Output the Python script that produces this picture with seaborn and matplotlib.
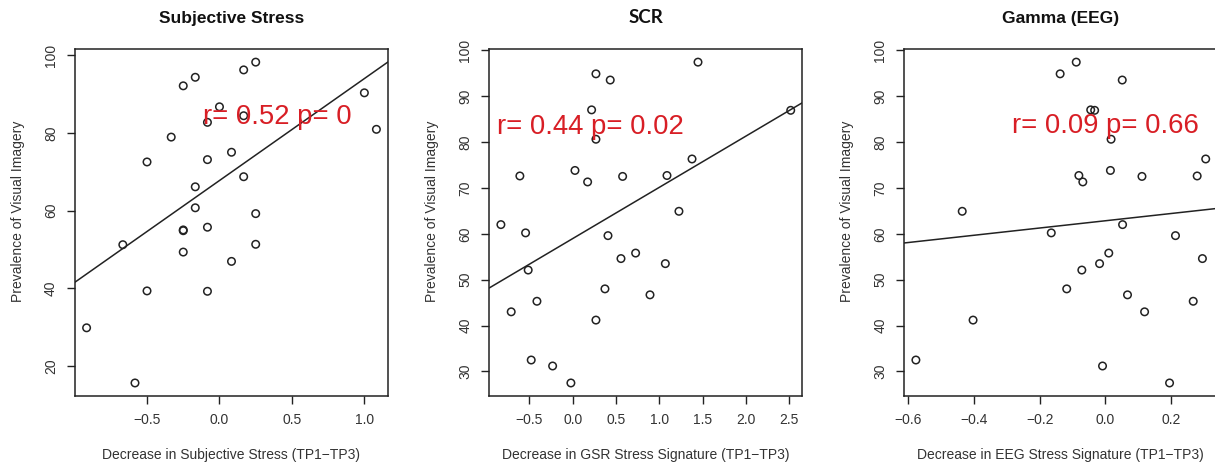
import numpy as np
import pandas as pd
import matplotlib
matplotlib.use("Agg")
import matplotlib.pyplot as plt
import seaborn as sns

# ---- data -------------------------------------------------------------
# Panel 1: change in self-reported stress vs. prevalence of visual imagery
subjective_change = [-0.25, -0.167, 0.167, 0.25, 0.0, 0.167, -0.083, 1.0, 1.083,
                     -0.333, -0.5, -0.083, 0.083, 0.167, -0.167, -0.167, 0.25,
                     -0.25, -0.25, -0.083, -0.667, -0.25, 0.083, 0.25, -0.5,
                     -0.083, -0.917, -0.583]
imagery_subjective = [92.1, 94.3, 96.2, 98.2, 86.7, 84.4, 82.7, 90.3, 80.9,
                      78.9, 72.5, 73.1, 75.0, 68.7, 66.1, 60.7, 59.2,
                      54.8, 55.0, 55.7, 51.2, 49.3, 46.9, 51.3, 39.3,
                      39.2, 29.8, 15.6]

# Panels 2 and 3: physiological stress signatures (same participants)
imagery_physio = [94.85, 93.5, 97.4, 87.0, 86.9, 80.6, 72.6, 73.8, 71.3, 72.5,
                  72.7, 76.3, 64.9, 62.0, 60.2, 59.6, 54.6, 55.8, 53.5, 52.1,
                  48.0, 46.7, 45.3, 43.0, 41.2, 32.5, 31.2, 27.5]
gsr_change = [0.269, 0.434, 1.447, 0.219, 2.517, 0.269, -0.609, 0.027, 0.173, 0.577,
              1.089, 1.378, 1.227, -0.828, -0.543, 0.408, 0.558, 0.727, 1.07, -0.513,
              0.373, 0.893, -0.412, -0.709, 0.269, -0.478, -0.231, -0.02]
eeg_change = [-0.138, 0.051, -0.089, -0.045, -0.033, 0.017, 0.279, 0.015, -0.069, 0.111,
              -0.081, 0.305, -0.436, 0.052, -0.165, 0.213, 0.295, 0.01, -0.018, -0.072,
              -0.118, 0.067, 0.267, 0.119, -0.403, -0.577, -0.009, 0.195]

titles = ["Subjective Stress", "SCR", "Gamma (EEG)"]
title_fonts = ["Liberation Sans", "Lato", "Liberation Sans"]
xlabels = ["Decrease in Subjective Stress (TP1\u2212TP3)",
           "Decrease in GSR Stress Signature (TP1\u2212TP3)",
           "Decrease in EEG Stress Signature (TP1\u2212TP3)"]
ylabel = "Prevalence of Visual Imagery"
stat_labels = ["r= 0.52 p= 0", "r= 0.44 p= 0.02", "r= 0.09 p= 0.66"]
stat_xy = [(0.40, 84.0), (0.20, 83.3), (0.0, 83.5)]
xticks = [[-0.5, 0.0, 0.5, 1.0],
          [-0.5, 0.0, 0.5, 1.0, 1.5, 2.0, 2.5],
          [-0.6, -0.4, -0.2, 0.0, 0.2]]
yticks = [[20, 40, 60, 80, 100],
          [30, 40, 50, 60, 70, 80, 90, 100],
          [30, 40, 50, 60, 70, 80, 90, 100]]

panels = [(subjective_change, imagery_subjective),
          (gsr_change, imagery_physio),
          (eeg_change, imagery_physio)]

# ---- style ------------------------------------------------------------
sns.set_style("ticks")
plt.rcParams["font.family"] = ["Liberation Sans", "DejaVu Sans"]
INK = "#222222"
TXT = "#333333"
RED = "#d81e25"

W, H = 1215, 466
fig = plt.figure(figsize=(W / 100, H / 100), dpi=100)

lefts = [75.0, 489.3, 904.3]
top, ax_w, ax_h = 49.3, 313.0, 346.5


def fmt(v, decimals):
    s = f"{v:.{decimals}f}"
    return s.replace("-", "\u2212")


for i, (xs, ys) in enumerate(panels):
    ax = fig.add_axes([lefts[i] / W, 1 - (top + ax_h) / H, ax_w / W, ax_h / H])
    df = pd.DataFrame({"x": xs, "y": ys})

    # R-style axis limits: data range padded by 4 % on each side
    xlo, xhi = min(xs), max(xs)
    ylo, yhi = min(ys), max(ys)
    xpad, ypad = 0.04 * (xhi - xlo), 0.04 * (yhi - ylo)
    xlim = (xlo - xpad, xhi + xpad)
    ylim = (ylo - ypad, yhi + ypad)
    ax.set_xlim(xlim)
    ax.set_ylim(ylim)

    sns.regplot(data=df, x="x", y="y", ax=ax, ci=None, truncate=False,
                color=INK,
                scatter_kws=dict(facecolors="none", edgecolors=INK, s=29,
                                 linewidths=1.1, alpha=1, zorder=3),
                line_kws=dict(color=INK, lw=1.1, zorder=2))
    ax.set_xlim(xlim)
    ax.set_ylim(ylim)

    for sp in ax.spines.values():
        sp.set_visible(True)
        sp.set_color(INK)
        sp.set_linewidth(1.1)

    ax.set_xticks(xticks[i])
    ax.set_xticklabels([fmt(v, 1) for v in xticks[i]])
    ax.set_yticks(yticks[i])
    ax.set_yticklabels([fmt(v, 0) for v in yticks[i]])
    ax.tick_params(axis="both", length=5.8, width=1.0, color=INK,
                   labelsize=10, labelcolor=TXT)
    ax.tick_params(axis="x", pad=6.8)
    ax.tick_params(axis="y", pad=6.5, labelrotation=90)
    for lab in ax.get_yticklabels():
        lab.set_verticalalignment("center")

    ax.set_xlabel(xlabels[i], fontsize=10, color=TXT)
    ax.set_ylabel(ylabel, fontsize=10, color=TXT)
    ax.xaxis.set_label_coords(0.5, -0.150)
    ax.yaxis.set_label_coords(-0.160, 0.533)

    ax.set_title(titles[i], fontsize=12.5 if i != 1 else 13.5, fontweight="bold",
                 family=title_fonts[i], color="#111111", pad=18.7)

    ax.text(stat_xy[i][0], stat_xy[i][1], stat_labels[i], color=RED,
            fontsize=19.8, ha="center", va="center", zorder=4)

fig.savefig("out.png", dpi=100, facecolor="white")
